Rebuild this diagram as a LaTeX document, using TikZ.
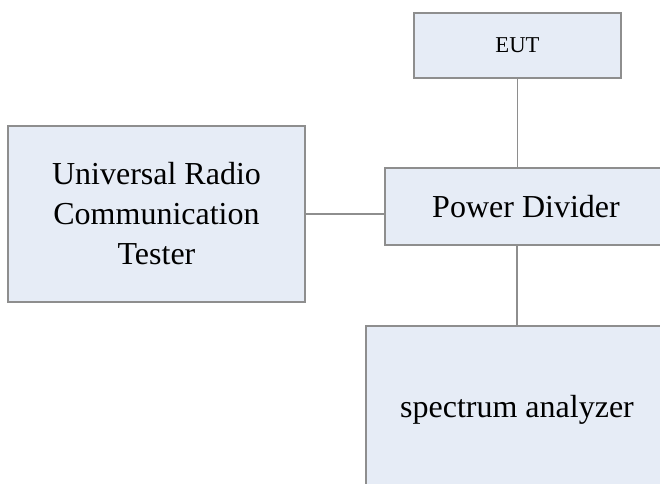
\documentclass[tikz,border=0pt]{standalone}
\usepackage{fontspec}
\setmainfont{Liberation Serif}
\definecolor{boxfill}{HTML}{E6ECF6}
\definecolor{boxgray}{HTML}{8E8E8E}
\begin{document}
\begin{tikzpicture}[x=0.75pt, y=-0.75pt,
        box/.style={draw=boxgray, fill=boxfill, line width=1.2pt, inner sep=0pt, align=center, font=\fontsize{24}{30}\selectfont},
        link/.style={draw=boxgray, line width=1.2pt}]
    \useasboundingbox (0,0) rectangle (660,484);
    \clip (0,0) rectangle (660,484);
    \node[box, minimum width=155.25pt, minimum height=48.75pt, font=\fontsize{17}{20}\selectfont] (eut) at (517.5,45.5) {EUT};
    \node[box, minimum width=222.75pt, minimum height=132pt] (tester) at (156.5,214) {Universal Radio\\Communication\\Tester};
    \node[box, minimum width=211.5pt, minimum height=57.75pt] (divider) at (526,206.5) {Power Divider};
    \node[box, minimum width=226.5pt, minimum height=126pt] (analyzer) at (517,410) {spectrum analyzer};
    \draw[link] (tester.east) -- (tester.east -| divider.west);
    \draw[link] (eut.south) -- (eut.south |- divider.north);
    \draw[link] (analyzer.north |- divider.south) -- (analyzer.north);
\end{tikzpicture}
\end{document}
